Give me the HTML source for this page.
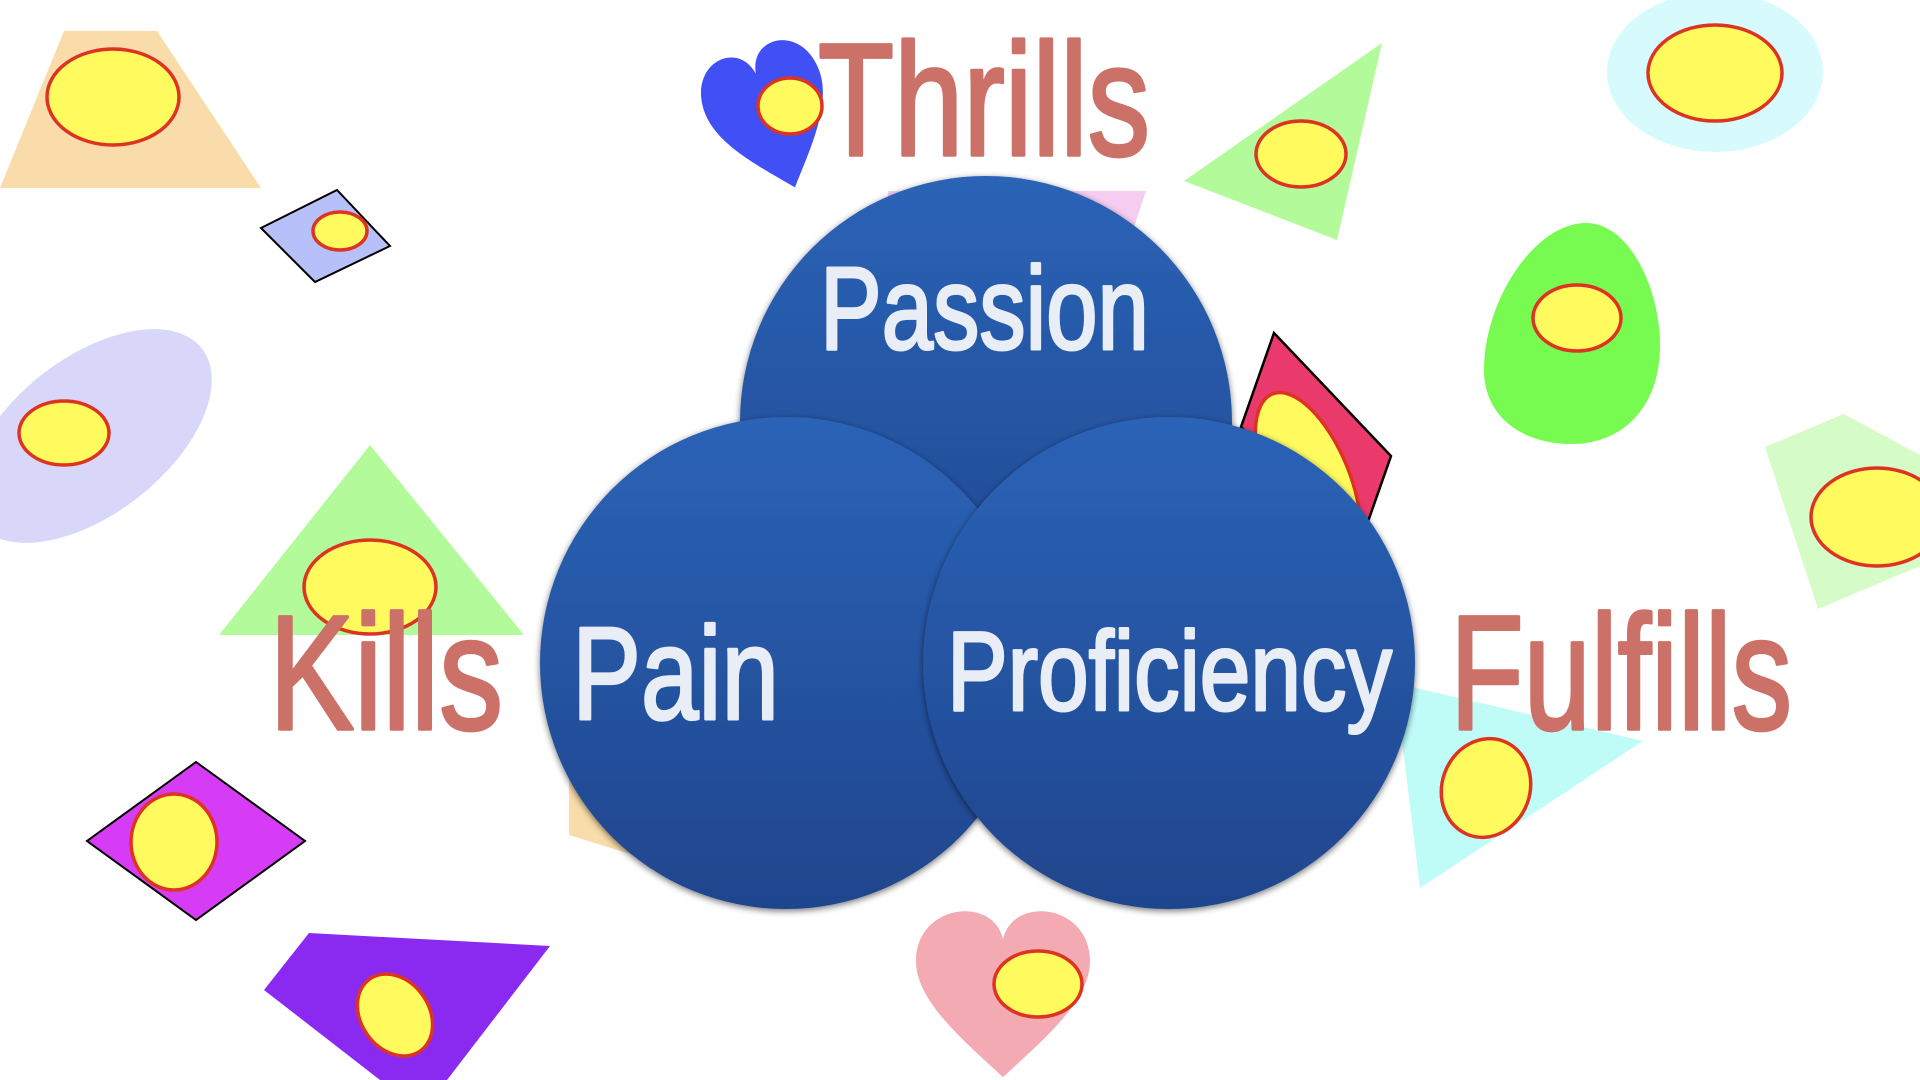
<!DOCTYPE html>
<html>
<head>
<meta charset="utf-8">
<style>
html,body{margin:0;padding:0;background:#fff;}
body{width:1920px;height:1080px;overflow:hidden;}
svg{display:block;}
</style>
</head>
<body>
<svg width="1920" height="1080" viewBox="0 0 1920 1080" xmlns="http://www.w3.org/2000/svg">
<defs>
  <linearGradient id="cg" x1="0" y1="0" x2="0" y2="1">
    <stop offset="0" stop-color="#2b63b7"/>
    <stop offset="1" stop-color="#1f458d"/>
  </linearGradient>
  <filter id="sh" x="-10%" y="-10%" width="120%" height="120%">
    <feGaussianBlur in="SourceAlpha" stdDeviation="3.5"/>
    <feOffset dx="0" dy="2" result="b"/>
    <feComponentTransfer><feFuncA type="linear" slope="0.55"/></feComponentTransfer>
    <feMerge><feMergeNode/><feMergeNode in="SourceGraphic"/></feMerge>
  </filter>
  <path id="heart" d="M0,55 C-20,35 -50,10 -50,-15 C-50,-35 -35,-45 -22,-45 C-10,-45 -2,-38 0,-28 C2,-38 10,-45 22,-45 C35,-45 50,-35 50,-15 C50,10 20,35 0,55 Z"/>
</defs>

<g stroke="#dd3322" stroke-width="3.5">
  <!-- top-left peach trapezoid -->
  <polygon points="64,31 157,31 261,188 0,188" fill="#f9dca9" stroke="none"/>
  <ellipse cx="113" cy="97" rx="66" ry="48" fill="#fffb5e"/>

  <!-- small lavender diamond -->
  <polygon points="261,228 337,190 390,246 315,282" fill="#b8c0f9" stroke="#000" stroke-width="2"/>
  <ellipse cx="340" cy="231" rx="27" ry="19" fill="#fffb5e"/>

  <!-- lavender ellipse -->
  <ellipse cx="90" cy="436" rx="142" ry="78" transform="rotate(-38 90 436)" fill="#d9d7f9" stroke="none"/>
  <ellipse cx="64" cy="433" rx="45" ry="32" fill="#fffb5e"/>

  <!-- green triangle left -->
  <polygon points="370,445 219,635 524,635" fill="#b3fb9a" stroke="none"/>
  <ellipse cx="370" cy="587" rx="66" ry="47" fill="#fffb5e"/>

  <!-- magenta diamond -->
  <polygon points="196,762 305,841 196,920 87,841" fill="#d63cf5" stroke="#000" stroke-width="2"/>
  <ellipse cx="174" cy="842" rx="43" ry="48" fill="#fffb5e"/>

  <!-- purple quad -->
  <polygon points="309,933 550,946 447,1080 380,1080 264,990" fill="#8a2af1" stroke="none"/>
  <ellipse cx="395" cy="1015" rx="34" ry="44" transform="rotate(-35 395 1015)" fill="#fffb5e"/>

  <!-- peach behind Pain -->
  <polygon points="569,740 700,740 700,875 627,853 569,835" fill="#f9dca9" stroke="none"/>
  <ellipse cx="665" cy="790" rx="72" ry="62" fill="#fffb5e"/>

  <!-- pink behind Passion -->
  <polygon points="888,191 1146,191 1110,300 888,300" fill="#f6cdf0" stroke="none"/>

  <!-- blue heart -->
  <g transform="translate(769,112) rotate(-19) scale(1.22,1.45)">
    <use href="#heart" fill="#4150f5" stroke="none"/>
  </g>
  <ellipse cx="790" cy="106" rx="32" ry="28" fill="#fffb5e"/>

  <!-- green triangle top right -->
  <polygon points="1382,43 1184,181 1337,240" fill="#b3fb9a" stroke="none"/>
  <ellipse cx="1301" cy="154" rx="45" ry="33" fill="#fffb5e"/>

  <!-- light cyan circle -->
  <ellipse cx="1715" cy="72" rx="108" ry="80" fill="#d7fbfc" stroke="none"/>
  <ellipse cx="1715" cy="73" rx="67" ry="48" fill="#fffb5e"/>

  <!-- green egg -->
  <path d="M1586,223 C1630,223 1660,290 1660,345 C1660,410 1620,444 1572,444 C1520,444 1484,415 1484,370 C1484,300 1535,223 1586,223 Z" fill="#78fb50" stroke="none"/>
  <ellipse cx="1577" cy="318" rx="44" ry="33" fill="#fffb5e"/>

  <!-- pale green pentagon -->
  <polygon points="1765,447 1844,414 1920,455 1920,566 1818,609" fill="#d5fcc7" stroke="none"/>
  <ellipse cx="1877" cy="517" rx="66" ry="49" fill="#fffb5e"/>

  <!-- crimson rhombus -->
  <polygon points="1274,333 1391,456 1358,550 1241,427" fill="#ea3a6b" stroke="#000" stroke-width="2.5"/>
  <ellipse cx="1308" cy="482" rx="42" ry="95" transform="rotate(-22 1308 482)" fill="#fffb5e"/>

  <!-- cyan triangle -->
  <polygon points="1395,683 1643,741 1420,888" fill="#bffcf8" stroke="none"/>
  <ellipse cx="1486" cy="788" rx="44" ry="50" transform="rotate(20 1486 788)" fill="#fffb5e"/>

  <!-- pink heart -->
  <g transform="translate(1003,986) scale(1.74,1.66)">
    <use href="#heart" fill="#f3aab3" stroke="none"/>
  </g>
  <ellipse cx="1038" cy="984" rx="44" ry="33" fill="#fffb5e"/>
</g>

<!-- main circles -->
<circle cx="986" cy="422" r="246" fill="url(#cg)" filter="url(#sh)"/>
<circle cx="786" cy="663" r="246" fill="url(#cg)" filter="url(#sh)"/>
<circle cx="1169" cy="663" r="246" fill="url(#cg)" filter="url(#sh)"/>

<!-- circle labels -->
<g font-family="'Liberation Sans', 'DejaVu Sans', sans-serif" fill="#e8edf6" stroke="#e8edf6" stroke-width="3" stroke-linejoin="round">
  <text x="820" y="349" font-size="118" textLength="329" lengthAdjust="spacingAndGlyphs">Passion</text>
  <text x="572" y="719" font-size="132" textLength="207" lengthAdjust="spacingAndGlyphs">Pain</text>
  <text x="947" y="710" font-size="112" textLength="445" lengthAdjust="spacingAndGlyphs">Proficiency</text>
</g>

<!-- outer labels -->
<g font-family="'Liberation Sans', 'DejaVu Sans', sans-serif" fill="#cc7168" stroke="#cc7168" stroke-width="3.5" stroke-linejoin="round">
  <text x="818" y="155" font-size="160" textLength="332" lengthAdjust="spacingAndGlyphs">Thrills</text>
  <text x="269" y="729" font-size="163" textLength="234" lengthAdjust="spacingAndGlyphs">Kills</text>
  <text x="1450" y="729" font-size="163" textLength="342" lengthAdjust="spacingAndGlyphs">Fulfills</text>
</g>
</svg>
</body>
</html>
